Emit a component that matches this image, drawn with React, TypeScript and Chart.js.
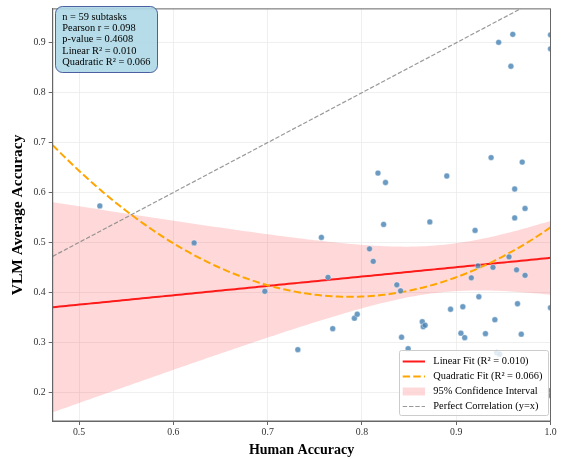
import React, { useEffect, useRef } from "react";
import { Chart, registerables } from "chart.js";

Chart.register(...registerables);

// ---- Data ----
const HUMAN_ACC = [
  0.522, 0.622, 0.697, 0.732, 0.757, 0.764, 0.769, 0.792, 0.795, 0.808,
  0.812, 0.817, 0.823, 0.825, 0.837, 0.841, 0.842, 0.849, 0.864, 0.865,
  0.867, 0.872, 0.89, 0.894, 0.905, 0.907, 0.909, 0.916, 0.92, 0.923,
  0.924, 0.931, 0.937, 0.939, 0.941, 0.943, 0.946, 0.945, 0.956, 0.958,
  0.96, 0.962, 0.962, 0.964, 0.965, 0.969, 0.97, 0.973, 0.973, 1.0,
  1.0, 1.0, 1.0, 1.0,
];
const VLM_ACC = [
  0.573, 0.499, 0.402, 0.285, 0.51, 0.43, 0.327, 0.348, 0.356, 0.487,
  0.462, 0.639, 0.536, 0.62, 0.415, 0.403, 0.31, 0.287, 0.341, 0.331,
  0.334, 0.541, 0.633, 0.366, 0.318, 0.371, 0.309, 0.429, 0.524, 0.453,
  0.391, 0.317, 0.67, 0.45, 0.345, 0.279, 0.276, 0.901, 0.471, 0.853,
  0.917, 0.607, 0.549, 0.445, 0.377, 0.316, 0.661, 0.568, 0.434, 0.916,
  0.888, 0.369, 0.203, 0.193,
];

const X_TICKS = [0.5, 0.6, 0.7, 0.8, 0.9, 1.0];
const Y_TICKS = [0.2, 0.3, 0.4, 0.5, 0.6, 0.7, 0.8, 0.9];
const X_RANGE = [0.472, 1.0];
const Y_RANGE = [0.142, 0.968];

// fitted models (coefficients)
const LINEAR_FIT = [0.1875, 0.2815]; // slope, intercept
const QUAD_FIT = [3.064, -4.8227, 2.2887]; // a, b, c
const CI_PARAMS = [0.00225, 0.2465, 0.8855]; // base variance, spread factor, mean x

const STATS_LINES = [
  "n = 59 subtasks",
  "Pearson r = 0.098",
  "p-value = 0.4608",
  "Linear R\u00b2 = 0.010",
  "Quadratic R\u00b2 = 0.066",
];
const LEGEND_LABELS = [
  "Linear Fit (R\u00b2 = 0.010)",
  "Quadratic Fit (R\u00b2 = 0.066)",
  "95% Confidence Interval",
  "Perfect Correlation (y=x)",
];

const X_TITLE = "Human Accuracy";
const Y_TITLE = "VLM Average Accuracy";

const FONT = "'Liberation Serif', 'Times New Roman', serif";

const SAMPLES = 150;
const curveXs = Array.from(
  { length: SAMPLES + 1 },
  (_, i) => X_RANGE[0] + ((X_RANGE[1] - X_RANGE[0]) * i) / SAMPLES
);
const linY = (x: number) => LINEAR_FIT[0] * x + LINEAR_FIT[1];
const quadY = (x: number) => QUAD_FIT[0] * x * x + QUAD_FIT[1] * x + QUAD_FIT[2];
const ciHalf = (x: number) =>
  Math.sqrt(CI_PARAMS[0] + CI_PARAMS[1] * (x - CI_PARAMS[2]) ** 2);

const RED = "#ff1a1a";
const ORANGE = "#ffa500";
const GRAY = "rgba(128,128,128,0.8)";
const PINK = "rgba(255,0,0,0.15)";

const overlayPlugin = {
  id: "overlay",
  afterDatasetsDraw(chart: any) {
    const { ctx, chartArea: a } = chart;
    ctx.save();
    ctx.strokeStyle = "#666";
    ctx.lineWidth = 1;
    ctx.strokeRect(a.left, a.top, a.right - a.left, a.bottom - a.top);
    ctx.restore();
  },
  afterDraw(chart: any) {
    const ctx = chart.ctx as CanvasRenderingContext2D;
    ctx.save();
    // stats box
    ctx.beginPath();
    (ctx as any).roundRect(55.5, 6.5, 102, 66, 7);
    ctx.fillStyle = "rgba(173,216,230,0.9)";
    ctx.fill();
    ctx.strokeStyle = "rgba(40,60,140,0.8)";
    ctx.lineWidth = 1;
    ctx.stroke();
    ctx.fillStyle = "#000";
    ctx.font = `10.4px ${FONT}`;
    ctx.textBaseline = "middle";
    ctx.textAlign = "left";
    STATS_LINES.forEach((t, i) => ctx.fillText(t, 62.3, 16.8 + i * 11.45));

    // legend
    ctx.beginPath();
    (ctx as any).roundRect(399.5, 350.5, 149, 65, 2);
    ctx.fillStyle = "rgba(255,255,255,0.8)";
    ctx.fill();
    ctx.strokeStyle = "#cccccc";
    ctx.lineWidth = 1;
    ctx.stroke();
    const hx0 = 402.7;
    const hx1 = 425;
    LEGEND_LABELS.forEach((t, i) => {
      const y = 361.5 + i * 15;
      ctx.save();
      if (i === 0) {
        ctx.strokeStyle = RED;
        ctx.lineWidth = 2;
        ctx.beginPath();
        ctx.moveTo(hx0, y);
        ctx.lineTo(hx1, y);
        ctx.stroke();
      } else if (i === 1) {
        ctx.strokeStyle = ORANGE;
        ctx.lineWidth = 2;
        ctx.setLineDash([7.4, 3.2]);
        ctx.beginPath();
        ctx.moveTo(hx0, y);
        ctx.lineTo(hx1, y);
        ctx.stroke();
      } else if (i === 2) {
        ctx.fillStyle = PINK;
        ctx.fillRect(hx0, y - 4, hx1 - hx0, 8);
      } else {
        ctx.strokeStyle = GRAY;
        ctx.lineWidth = 1.2;
        ctx.setLineDash([4.4, 1.9]);
        ctx.beginPath();
        ctx.moveTo(hx0, y);
        ctx.lineTo(hx1, y);
        ctx.stroke();
      }
      ctx.restore();
      ctx.fillStyle = "#000";
      ctx.font = `10.4px ${FONT}`;
      ctx.textBaseline = "middle";
      ctx.fillText(t, 433.3, y);
    });
    ctx.restore();
  },
};

export default function App() {
  const canvasRef = useRef<HTMLCanvasElement | null>(null);

  useEffect(() => {
    if (!canvasRef.current) return;
    const points = HUMAN_ACC.map((x, i) => ({ x, y: VLM_ACC[i] }));
    const upper = curveXs.map((x) => ({ x, y: linY(x) + ciHalf(x) }));
    const lower = curveXs.map((x) => ({ x, y: linY(x) - ciHalf(x) }));
    const linPts = curveXs.map((x) => ({ x, y: linY(x) }));
    const quadPts = curveXs.map((x) => ({ x, y: quadY(x) }));
    const diag = [
      { x: X_RANGE[0], y: X_RANGE[0] },
      { x: X_RANGE[1], y: X_RANGE[1] },
    ];

    const lineBase = {
      type: "line" as const,
      pointRadius: 0,
      tension: 0,
    };

    const chart = new Chart(canvasRef.current, {
      type: "scatter",
      data: {
        datasets: [
          {
            ...lineBase,
            label: "CI upper",
            data: upper,
            borderWidth: 0,
            borderColor: "rgba(0,0,0,0)",
            backgroundColor: PINK,
            fill: "+1",
            order: 5,
          },
          {
            ...lineBase,
            label: "CI lower",
            data: lower,
            borderWidth: 0,
            borderColor: "rgba(0,0,0,0)",
            fill: false,
            order: 6,
          },
          {
            ...lineBase,
            label: "Perfect",
            data: diag,
            borderColor: GRAY,
            borderWidth: 1.2,
            borderDash: [4.4, 1.9],
            fill: false,
            order: 4,
          },
          {
            ...lineBase,
            label: "Linear",
            data: linPts,
            borderColor: RED,
            borderWidth: 2,
            fill: false,
            order: 3,
          },
          {
            ...lineBase,
            label: "Quadratic",
            data: quadPts,
            borderColor: ORANGE,
            borderWidth: 2,
            borderDash: [7.4, 3.2],
            fill: false,
            order: 2,
          },
          {
            type: "scatter" as const,
            label: "Subtasks",
            data: points,
            pointRadius: 2.9,
            pointBackgroundColor: "rgba(70,130,180,0.8)",
            pointBorderColor: "rgba(255,255,255,0.7)",
            pointBorderWidth: 0.5,
            order: 1,
          },
        ] as any,
      },
      options: {
        responsive: false,
        animation: false,
        events: [],
        layout: { padding: { top: 5, right: 11.5, left: 0, bottom: 0 } },
        plugins: {
          legend: { display: false },
          tooltip: { enabled: false },
        },
        scales: {
          x: {
            type: "linear",
            min: X_RANGE[0],
            max: X_RANGE[1],
            afterBuildTicks: (s: any) => {
              s.ticks = X_TICKS.map((v) => ({ value: v }));
            },
            afterFit: (s: any) => {
              s.height = 38;
            },
            grid: {
              color: "#ebebeb",
              lineWidth: 0.8,
              tickColor: "#666",
              tickLength: 4,
              tickWidth: 1,
            },
            border: { color: "#666", width: 1 },
            ticks: {
              font: { family: FONT, size: 9.8 },
              color: "#333",
              padding: 2,
              maxRotation: 0,
              autoSkip: false,
              callback: (v: any) => Number(v).toFixed(1),
            },
            title: {
              display: true,
              text: X_TITLE,
              color: "#000",
              font: { family: FONT, size: 14, weight: "bold" },
              padding: { top: 0, bottom: 0 },
            },
          },
          y: {
            type: "linear",
            min: Y_RANGE[0],
            max: Y_RANGE[1],
            afterBuildTicks: (s: any) => {
              s.ticks = Y_TICKS.map((v) => ({ value: v }));
            },
            afterFit: (s: any) => {
              s.width = 52.7;
            },
            grid: {
              color: "#ebebeb",
              lineWidth: 0.8,
              tickColor: "#666",
              tickLength: 4,
              tickWidth: 1,
            },
            border: { color: "#666", width: 1 },
            ticks: {
              font: { family: FONT, size: 9.8 },
              color: "#333",
              padding: 3,
              autoSkip: false,
              callback: (v: any) => Number(v).toFixed(1),
            },
            title: {
              display: true,
              text: Y_TITLE,
              color: "#000",
              font: { family: FONT, size: 15.5, weight: "bold" },
              padding: { top: 8.5, bottom: 0 },
            },
          },
        },
      },
      plugins: [overlayPlugin],
    } as any);

    return () => chart.destroy();
  }, []);

  return (
    <div style={{ position: "absolute", left: 0, top: 0, width: 562, height: 459, background: "#fff" }}>
      <canvas ref={canvasRef} width={562} height={459} style={{ display: "block" }} />
    </div>
  );
}
